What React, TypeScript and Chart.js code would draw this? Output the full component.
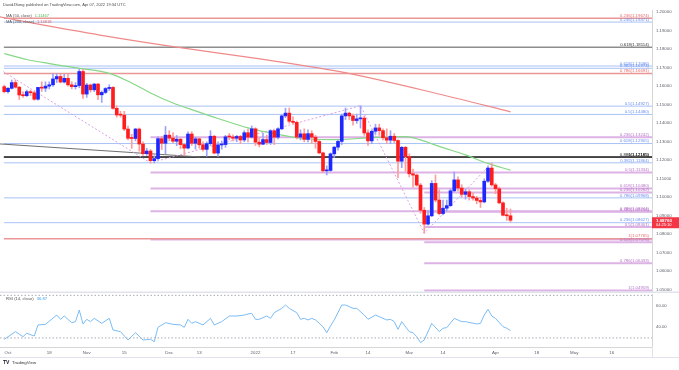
import React, { useEffect, useRef } from "react";
import { Chart, registerables } from "chart.js";
Chart.register(...registerables);

const FONT = "'Liberation Sans', Arial, sans-serif";
const TITLE = "DavidJSong published on TradingView.com, Apr 07, 2022 19:34 UTC";

// EUR/USD daily bars. Bar number 0 = Fri 1 Oct 2021, counted in trading days.
const FIRST_BAR = -1;
const opens = [1.1598,1.1571,1.1589,1.1620,1.1595,1.1553,1.1549,1.1571,1.1565,1.1530,1.1594,1.1590,1.1601,1.1608,1.1640,1.1653,1.1623,1.1643,1.1608,1.1598,1.1604,1.1680,1.1558,1.1607,1.1581,1.1612,1.1554,1.1567,1.1588,1.1594,1.1481,1.1448,1.1444,1.1369,1.1319,1.1318,1.1369,1.1288,1.1236,1.1250,1.1198,1.1209,1.1317,1.1292,1.1336,1.1320,1.1303,1.1314,1.1285,1.1266,1.1342,1.1292,1.1316,1.1284,1.1259,1.1290,1.1330,1.1239,1.1283,1.1285,1.1327,1.1326,1.1319,1.1329,1.1310,1.1349,1.1325,1.1370,1.1298,1.1287,1.1312,1.1296,1.1360,1.1325,1.1370,1.1440,1.1455,1.1411,1.1405,1.1325,1.1343,1.1313,1.1344,1.1325,1.1302,1.1240,1.1143,1.1145,1.1235,1.1271,1.1302,1.1440,1.1455,1.1440,1.1415,1.1424,1.1428,1.1348,1.1305,1.1357,1.1375,1.1360,1.1322,1.1309,1.1330,1.1307,1.1195,1.1270,1.1220,1.1127,1.1120,1.1066,1.0930,1.0855,1.0900,1.1075,1.0985,1.0912,1.0941,1.0955,1.1035,1.1094,1.1050,1.1016,1.1030,1.1004,1.0996,1.0983,1.0975,1.1087,1.1158,1.1067,1.1046,1.0970,1.0903,1.0900];
const highs = [1.1607,1.1595,1.1634,1.1635,1.1600,1.1570,1.1580,1.1580,1.1575,1.1595,1.1624,1.1624,1.1624,1.1668,1.1668,1.1665,1.1665,1.1665,1.1625,1.1620,1.1692,1.1692,1.1616,1.1612,1.1616,1.1616,1.1575,1.1593,1.1608,1.1598,1.1495,1.1465,1.1465,1.1385,1.1340,1.1373,1.1375,1.1300,1.1265,1.1258,1.1225,1.1327,1.1330,1.1383,1.1360,1.1350,1.1334,1.1320,1.1290,1.1354,1.1355,1.1325,1.1320,1.1300,1.1300,1.1360,1.1335,1.1300,1.1304,1.1335,1.1345,1.1337,1.1335,1.1335,1.1360,1.1369,1.1386,1.1376,1.1321,1.1346,1.1336,1.1365,1.1362,1.1375,1.1445,1.1482,1.1483,1.1435,1.1412,1.1365,1.1370,1.1365,1.1360,1.1335,1.1306,1.1245,1.1170,1.1240,1.1275,1.1310,1.1450,1.1483,1.1460,1.1450,1.1450,1.1495,1.1440,1.1365,1.1365,1.1395,1.1395,1.1370,1.1370,1.1360,1.1345,1.1310,1.1275,1.1275,1.1235,1.1153,1.1125,1.1075,1.0945,1.0930,1.1090,1.1121,1.1040,1.0985,1.0985,1.1045,1.1137,1.1110,1.1068,1.1045,1.1040,1.1024,1.1005,1.1000,1.1100,1.1170,1.1185,1.1075,1.1055,1.0975,1.0940,1.0937];
const lows = [1.1564,1.1563,1.1585,1.1590,1.1529,1.1540,1.1545,1.1550,1.1524,1.1525,1.1572,1.1572,1.1586,1.1600,1.1620,1.1618,1.1618,1.1601,1.1586,1.1585,1.1592,1.1535,1.1540,1.1568,1.1571,1.1528,1.1513,1.1560,1.1577,1.1477,1.1433,1.1433,1.1360,1.1310,1.1264,1.1305,1.1249,1.1226,1.1226,1.1186,1.1186,1.1202,1.1258,1.1235,1.1305,1.1295,1.1279,1.1263,1.1227,1.1262,1.1280,1.1260,1.1265,1.1250,1.1222,1.1280,1.1235,1.1221,1.1260,1.1270,1.1310,1.1305,1.1300,1.1290,1.1300,1.1300,1.1320,1.1280,1.1272,1.1285,1.1285,1.1285,1.1285,1.1315,1.1366,1.1430,1.1400,1.1395,1.1315,1.1310,1.1300,1.1300,1.1290,1.1265,1.1235,1.1135,1.1121,1.1140,1.1215,1.1255,1.1285,1.1420,1.1420,1.1390,1.1400,1.1374,1.1335,1.1280,1.1290,1.1340,1.1335,1.1310,1.1290,1.1290,1.1295,1.1106,1.1160,1.1140,1.1110,1.1055,1.1060,1.0914,1.0806,1.0850,1.0895,1.0975,1.0905,1.0905,1.0925,1.0950,1.1030,1.1035,1.1000,1.0990,1.0985,1.0985,1.0965,1.0945,1.0970,1.1080,1.1060,1.1020,1.0965,1.0900,1.0875,1.0866];
const closes = [1.1571,1.1589,1.1620,1.1595,1.1553,1.1549,1.1571,1.1565,1.1530,1.1594,1.1590,1.1601,1.1608,1.1640,1.1653,1.1623,1.1643,1.1608,1.1598,1.1604,1.1680,1.1558,1.1607,1.1581,1.1612,1.1554,1.1567,1.1588,1.1594,1.1481,1.1445,1.1444,1.1369,1.1319,1.1318,1.1369,1.1288,1.1236,1.1250,1.1198,1.1209,1.1317,1.1292,1.1336,1.1320,1.1303,1.1314,1.1285,1.1266,1.1342,1.1292,1.1316,1.1284,1.1259,1.1290,1.1330,1.1239,1.1283,1.1285,1.1327,1.1326,1.1319,1.1329,1.1310,1.1349,1.1325,1.1370,1.1298,1.1287,1.1312,1.1296,1.1360,1.1325,1.1370,1.1440,1.1455,1.1411,1.1405,1.1325,1.1343,1.1313,1.1344,1.1325,1.1302,1.1240,1.1143,1.1145,1.1235,1.1271,1.1302,1.1440,1.1455,1.1440,1.1415,1.1424,1.1428,1.1348,1.1305,1.1357,1.1375,1.1360,1.1322,1.1309,1.1330,1.1307,1.1195,1.1270,1.1220,1.1127,1.1120,1.1066,1.0930,1.0855,1.0900,1.1075,1.0985,1.0912,1.0941,1.0955,1.1035,1.1094,1.1050,1.1016,1.1030,1.1004,1.0996,1.0983,1.0975,1.1087,1.1158,1.1067,1.1046,1.0970,1.0903,1.0900,1.0876];

const timeTickBars = [0, 11, 21, 31, 43, 51, 66, 76, 87, 96, 107, 116, 130, 141, 151, 161];
const timeTickLabels = ["Oct", "18", "Nov", "15", "Dec", "13", "2022", "17", "Feb", "14", "Mar", "14", "Apr", "18", "May", "16"];
const priceTicks = [1.05, 1.06, 1.07, 1.08, 1.09, 1.1, 1.11, 1.12, 1.13, 1.14, 1.15, 1.16, 1.17, 1.18, 1.19, 1.2];
const rsiTicks = [40, 60];

const ma50Bars = [-1, 5, 11, 19, 27, 33, 38, 44, 50, 56, 64, 72, 80, 88, 97, 106, 110, 115, 122, 128, 134];
const ma50Values = [1.1777, 1.1745, 1.1723, 1.1697, 1.1670, 1.1618, 1.1564, 1.1510, 1.1467, 1.1426, 1.1375, 1.1340, 1.1315, 1.1312, 1.1323, 1.1328, 1.1310, 1.1275, 1.1229, 1.1183, 1.11467];
const ma200Bars = [-2.2, 6.7, 24.5, 45.9, 67.2, 88.5, 115.2, 134];
const ma200Values = [1.1975, 1.1941, 1.1877, 1.1809, 1.1748, 1.1679, 1.1557, 1.14618];

const rsiBars = [-1, 2, 4, 5, 7, 8, 10, 13, 14, 15, 17, 18, 19, 20, 21, 22, 23, 25, 27, 28, 30, 32, 34, 36, 38, 39, 40, 42, 44, 46, 47, 48, 49, 50, 52, 54, 55, 57, 59, 61, 63, 64, 65, 66, 67, 69, 70, 71, 73, 74, 75, 77, 78, 79, 80, 81, 82, 84, 85, 86, 87, 89, 90, 92, 93, 95, 96, 98, 99, 101, 102, 103, 104, 105, 107, 108, 109, 110, 111, 113, 115, 116, 117, 119, 121, 122, 125, 126, 127, 128, 129, 130, 132, 133, 134];
const rsiValues = [28.7, 35.9, 31.2, 34.4, 31.8, 42.2, 42.8, 51.5, 47.5, 50.6, 44.3, 45.3, 56.2, 43.1, 47.5, 45.3, 48.4, 43.7, 48.4, 37.5, 35.9, 28.1, 34.9, 28.1, 28.7, 26.5, 40.0, 44.3, 42.8, 42.2, 40.0, 47.5, 43.7, 45.3, 42.2, 48.4, 42.2, 45.3, 50.6, 50.6, 51.5, 52.5, 53.1, 47.5, 47.5, 50.6, 48.4, 53.7, 57.8, 60.9, 57.8, 53.7, 47.5, 48.4, 46.9, 48.4, 46.9, 40.6, 34.9, 41.2, 46.9, 60.9, 60.9, 57.8, 57.8, 51.5, 47.5, 51.5, 50.0, 46.9, 47.5, 45.3, 38.1, 45.3, 35.9, 34.9, 31.2, 25.6, 28.1, 43.7, 35.9, 39.1, 39.7, 48.4, 45.3, 45.3, 43.1, 43.7, 51.5, 56.9, 50.6, 48.4, 40.6, 39.1, 36.87];
const rsiBands = [70, 30];

const zigzagBars = [-1.25, 38, 94, 111, 129];
const zigzagPrices = [1.1679, 1.1186, 1.1495, 1.0806, 1.1185];
const trendBars = [-2.2, 51.2];
const trendPrices = [1.12885, 1.1218];

const levelPrices = [1.19674, 1.19471, 1.18114, 1.17096, 1.16974, 1.16691, 1.14927, 1.1448, 1.13242, 1.12905, 1.12185, 1.12165, 1.11864, 1.11334, 1.1048, 1.10262, 1.09968, 1.09244, 1.09216, 1.08627, 1.08401, 1.07765, 1.07721, 1.07576, 1.06433, 1.04959];
const levelFromBars = [-1.1, -1.1, -1.1, -1.1, -1.1, -1.1, -1.1, -1.1, 38, -1.1, -1.1, -1.1, -1.1, 38, 38, 111, -1.1, 38, 111, -1.1, 111, -1.1, 38, 111, 111, 111];
const levelKinds = ["red", "blue", "gray", "blue", "blue", "red", "blue", "blue", "purple", "blue", "black", "black", "blue", "purple", "purple", "purple", "blue", "purple", "purple", "blue", "purple", "red", "purple", "purple", "purple", "purple"];
const levelLabels = ["0.236(1.19674)", "0.236(1.19471)", "0.618(1.18114)", "0.618(1.17096)", "0.382(1.16974)", "0.786(1.16691)", "0.5(1.14927)", "0.5(1.14480)", "0.236(1.13242)", "0.618(1.12905)", "1(1.12185)", "0.886(1.12165)", "0.382(1.11864)", "0.5(1.11334)", "0.618(1.10480)", "0.236(1.10262)", "0.786(1.09968)", "0.786(1.09244)", "0.382(1.09216)", "0.236(1.08627)", "0.5(1.08401)", "1(1.07765)", "", "0.618(1.07576)", "0.786(1.06433)", "1(1.04959)"];

const LEVEL_STYLE: Record<string, { line: string; width: number; text: string }> = {
  red: { line: "#ea9696", width: 1.5, text: "#e46a6a" },
  blue: { line: "#a8c2f5", width: 1, text: "#6a8fee" },
  purple: { line: "#ddb2e5", width: 2, text: "#b574c7" },
  black: { line: "#2a2a2a", width: 1.2, text: "#222222" },
  gray: { line: "#555555", width: 1, text: "#333333" },
};

const W = 679;
const MAIN_H = 293;
const RSI_H = 77;
const AXIS_W = 27;
const X_MIN = -2.1333;
const X_MAX = 171.733;
const P_MIN = 1.04827;
const P_MAX = 1.20124;
const R_MIN = 21.5;
const R_MAX = 71.27;

const UP = "#1f27ff";
const DN = "#ff1c1c";
const UP_W = "#9aa2ff";
const DN_W = "#ff9c9c";

function fitY(scale: any) {
  scale.width = AXIS_W;
  scale.paddingTop = 0;
  scale.paddingBottom = 0;
}

export default function App() {
  const mainRef = useRef<HTMLCanvasElement>(null);
  const rsiRef = useRef<HTMLCanvasElement>(null);

  useEffect(() => {
    document.body.style.margin = "0";
    const bars = opens.map((_, i) => FIRST_BAR + i);
    const up = bars.map((_, i) => closes[i] >= opens[i]);
    const wickData = bars.map((b, i) => ({ x: b, y: [lows[i], highs[i]] }));
    const bodyData = bars.map((b, i) => ({ x: b, y: [opens[i], closes[i]] }));

    const levelSets = levelPrices.map((p, i) => ({
      type: "line" as const,
      data: [{ x: levelFromBars[i], y: p }, { x: X_MAX, y: p }],
      borderColor: LEVEL_STYLE[levelKinds[i]].line,
      borderWidth: LEVEL_STYLE[levelKinds[i]].width,
      pointRadius: 0,
      order: 20,
    }));

    const mainText = {
      id: "mainText",
      afterDraw(chart: any) {
        const { ctx, chartArea, scales } = chart;
        const ys = scales.y;
        ctx.save();
        ctx.font = `4.3px ${FONT}`;
        ctx.textAlign = "right";
        ctx.textBaseline = "alphabetic";
        levelPrices.forEach((p, i) => {
          const lbl = levelLabels[i];
          if (!lbl) return;
          ctx.fillStyle = LEVEL_STYLE[levelKinds[i]].text;
          ctx.fillText(lbl, chartArea.right - 3, ys.getPixelForValue(p) - 1.2);
        });
        // title
        ctx.textAlign = "left";
        ctx.textBaseline = "middle";
        ctx.font = `4px ${FONT}`;
        ctx.fillStyle = "#4a4a4a";
        ctx.fillText(TITLE, 3, 5);
        // MA legends
        ctx.font = `4px ${FONT}`;
        const legends = [
          { t: "MA (50, close)", v: ma50Values[ma50Values.length - 1].toFixed(5), c: "#4cb84c", y: 15.5 },
          { t: "MA (200, close)", v: ma200Values[ma200Values.length - 1].toFixed(5), c: "#e35b5b", y: 22 },
        ];
        legends.forEach((l) => {
          ctx.fillStyle = "#555";
          ctx.fillText(l.t, 6, l.y);
          const w = ctx.measureText(l.t).width;
          ctx.fillStyle = l.c;
          ctx.fillText(l.v, 6 + w + 3, l.y);
        });
        // last price box
        const last = closes[closes.length - 1];
        const py = ys.getPixelForValue(last);
        ctx.fillStyle = "#f23645";
        ctx.fillRect(chartArea.right, py - 3, W - chartArea.right, 11);
        ctx.fillStyle = "#fff";
        ctx.textAlign = "left";
        ctx.font = `bold 4.4px ${FONT}`;
        ctx.fillText(last.toFixed(5), chartArea.right + 4, py + 0.5);
        ctx.font = `4px ${FONT}`;
        ctx.fillText("04:25:10", chartArea.right + 4, py + 5);
        // pane separator
        ctx.fillStyle = "#e0e3eb";
        ctx.fillRect(0, MAIN_H - 1.5, W, 1.5);
        ctx.restore();
      },
    };

    const main = new Chart(mainRef.current!, {
      type: "bar",
      data: {
        datasets: [
          ...levelSets,
          {
            type: "line",
            data: trendBars.map((b, i) => ({ x: b, y: trendPrices[i] })),
            borderColor: "#6f6f6f",
            borderWidth: 1,
            pointRadius: 0,
            order: 15,
          },
          {
            type: "line",
            data: zigzagBars.map((b, i) => ({ x: b, y: zigzagPrices[i] })),
            borderColor: "#d9a0e2",
            borderWidth: 1,
            borderDash: [2, 2],
            pointRadius: 0,
            order: 14,
          },
          {
            type: "line",
            data: ma200Bars.map((b, i) => ({ x: b, y: ma200Values[i] })),
            borderColor: "#f08a8a",
            borderWidth: 1.2,
            pointRadius: 0,
            cubicInterpolationMode: "monotone",
            order: 12,
          },
          {
            type: "line",
            data: ma50Bars.map((b, i) => ({ x: b, y: ma50Values[i] })),
            borderColor: "#86d886",
            borderWidth: 1.2,
            pointRadius: 0,
            cubicInterpolationMode: "monotone",
            order: 11,
          },
          {
            type: "bar",
            data: wickData as any,
            backgroundColor: up.map((u) => (u ? UP_W : DN_W)),
            barThickness: 1,
            grouped: false,
            order: 3,
          },
          {
            type: "bar",
            data: bodyData as any,
            backgroundColor: up.map((u) => (u ? UP : DN)),
            barThickness: 3,
            minBarLength: 1,
            grouped: false,
            order: 2,
          },
        ] as any,
      },
      options: {
        responsive: false,
        animation: false,
        events: [],
        layout: { padding: { top: 10, bottom: 0, left: 0, right: 0 } },
        plugins: { legend: { display: false }, tooltip: { enabled: false } },
        scales: {
          x: { type: "linear", min: X_MIN, max: X_MAX, offset: false, display: false },
          y: {
            type: "linear",
            position: "right",
            min: P_MIN,
            max: P_MAX,
            beginAtZero: false,
            afterFit: fitY,
            afterBuildTicks: (s: any) => {
              s.ticks = priceTicks.map((v) => ({ value: v }));
            },
            grid: { display: false, drawTicks: false },
            border: { display: true, color: "#d6d6d6" },
            ticks: {
              padding: 4,
              color: "#5d606b",
              font: { size: 4.3, family: FONT },
              callback: (v: any) => Number(v).toFixed(5),
            },
          },
        },
      } as any,
      plugins: [mainText],
    });

    const rsiText = {
      id: "rsiText",
      afterDraw(chart: any) {
        const { ctx, chartArea } = chart;
        ctx.save();
        ctx.textBaseline = "middle";
        ctx.textAlign = "left";
        ctx.font = `4.2px ${FONT}`;
        ctx.fillStyle = "#555";
        const t = "RSI (14, close)";
        ctx.fillText(t, 6, 6);
        const w = ctx.measureText(t).width;
        ctx.fillStyle = "#3d9be9";
        ctx.fillText(rsiValues[rsiValues.length - 1].toFixed(2), 6 + w + 3, 6);
        // bottom border of time axis
        ctx.fillStyle = "#e0e3eb";
        ctx.fillRect(0, chartArea.bottom + 10, W, 1);
        // vertical separator through the time axis
        ctx.fillRect(chartArea.right, chartArea.bottom, 1, 11);
        // TradingView logo
        ctx.fillStyle = "#131722";
        ctx.font = `bold 5px ${FONT}`;
        ctx.fillText("TV", 3, 70);
        ctx.font = `4.4px ${FONT}`;
        ctx.fillStyle = "#333";
        ctx.fillText("TradingView", 12, 70);
        ctx.restore();
      },
    };

    const rsi = new Chart(rsiRef.current!, {
      type: "line",
      data: {
        datasets: [
          ...rsiBands.map((v) => ({
            data: [{ x: X_MIN, y: v }, { x: X_MAX, y: v }],
            borderColor: "#a9acb5",
            borderWidth: 1,
            borderDash: [1.5, 2],
            pointRadius: 0,
          })),
          {
            data: rsiBars.map((b, i) => ({ x: b, y: rsiValues[i] })),
            borderColor: "#7cbcf4",
            borderWidth: 1,
            pointRadius: 0,
            tension: 0,
          },
        ],
      },
      options: {
        responsive: false,
        animation: false,
        events: [],
        layout: { padding: { top: 1, bottom: 11, left: 0, right: 0 } },
        plugins: { legend: { display: false }, tooltip: { enabled: false } },
        scales: {
          x: {
            type: "linear",
            min: X_MIN,
            max: X_MAX,
            offset: false,
            afterFit: (s: any) => {
              s.height = 12;
              s.paddingLeft = 0;
              s.paddingRight = 0;
            },
            afterBuildTicks: (s: any) => {
              s.ticks = timeTickBars.map((v) => ({ value: v }));
            },
            grid: { display: false, drawTicks: false },
            border: { display: true, color: "#d6d6d6" },
            ticks: {
              autoSkip: false,
              maxRotation: 0,
              padding: 3,
              color: "#5d606b",
              font: { size: 4.4, family: FONT },
              callback: (_v: any, i: number) => timeTickLabels[i],
            },
          },
          y: {
            type: "linear",
            position: "right",
            min: R_MIN,
            max: R_MAX,
            afterFit: fitY,
            afterBuildTicks: (s: any) => {
              s.ticks = rsiTicks.map((v) => ({ value: v }));
            },
            grid: { display: false, drawTicks: false },
            border: { display: true, color: "#d6d6d6" },
            ticks: {
              padding: 4,
              color: "#5d606b",
              font: { size: 4.3, family: FONT },
              callback: (v: any) => Number(v).toFixed(2),
            },
          },
        },
      } as any,
      plugins: [rsiText],
    });

    return () => {
      main.destroy();
      rsi.destroy();
    };
  }, []);

  return (
    <div style={{ position: "fixed", left: 0, top: 0, width: W, height: 370, background: "#fff", overflow: "hidden" }}>
      <canvas ref={mainRef} width={W} height={MAIN_H} style={{ position: "absolute", left: 0, top: 0, width: W, height: MAIN_H }} />
      <canvas ref={rsiRef} width={W} height={RSI_H} style={{ position: "absolute", left: 0, top: MAIN_H, width: W, height: RSI_H }} />
    </div>
  );
}
